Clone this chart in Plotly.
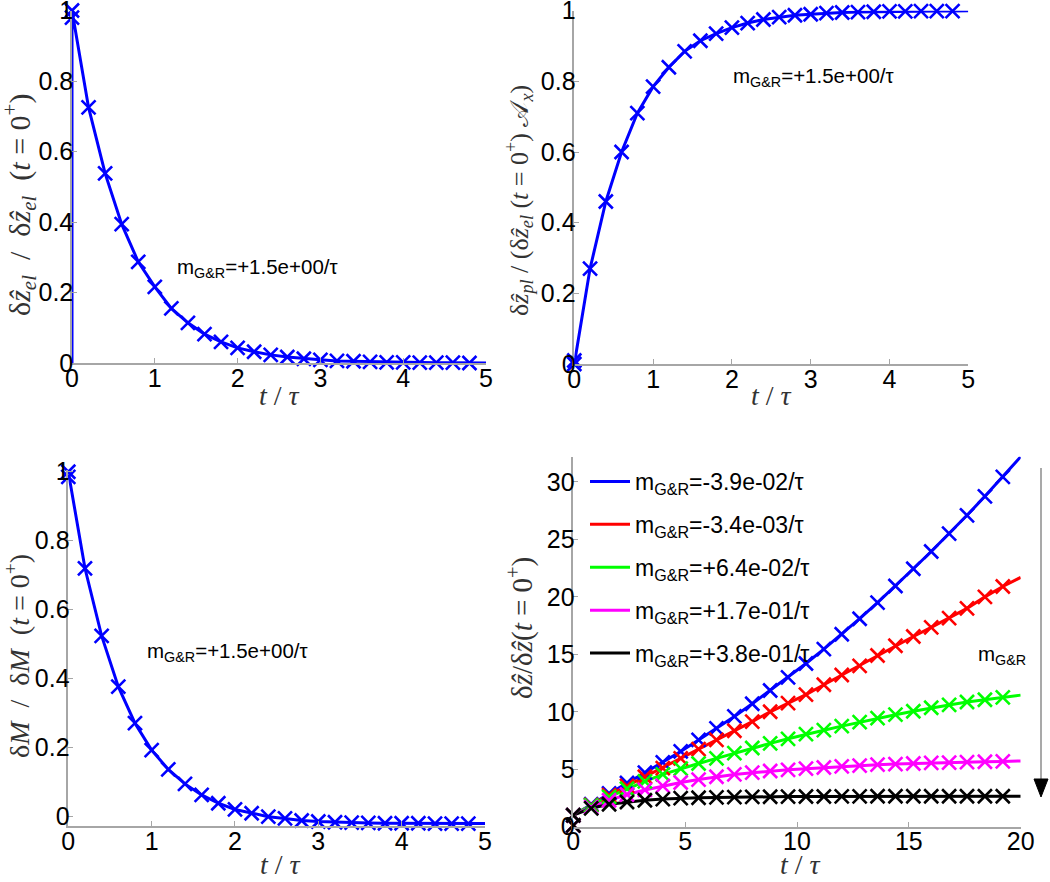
import plotly.graph_objects as go

# ---------------- data ----------------
t_short = [0.0, 0.2, 0.4, 0.6, 0.8, 1.0, 1.2, 1.4, 1.6, 1.8, 2.0, 2.2, 2.4, 2.6, 2.8,
           3.0, 3.2, 3.4, 3.6, 3.8, 4.0, 4.2, 4.4, 4.6, 4.8]
t_short_end = 5.0

# top-left: elastic displacement decay
z_el = [1.0, 0.725, 0.538, 0.394, 0.287, 0.216, 0.155, 0.114, 0.082, 0.060, 0.043, 0.032,
        0.023, 0.017, 0.012, 0.009, 0.006, 0.005, 0.003, 0.002, 0.002, 0.001, 0.001, 0.001, 0.000]
z_el_end = 0.0
z_el_t0_extra = 0.98

# top-right: plastic displacement growth
z_pl = [0.0, 0.27, 0.46, 0.60, 0.71, 0.785, 0.84, 0.885, 0.915, 0.935, 0.952, 0.965,
        0.975, 0.982, 0.987, 0.990, 0.993, 0.995, 0.996, 0.997, 0.998, 0.998, 0.999, 0.999, 0.999]
z_pl_end = 1.0
z_pl_t0_extra = 0.01

# bottom-left: moment decay
dM = [1.0, 0.72, 0.524, 0.377, 0.271, 0.193, 0.137, 0.095, 0.063, 0.039, 0.021, 0.010,
      0.0, -0.005, -0.011, -0.014, -0.016, -0.017, -0.018, -0.019, -0.019, -0.019, -0.020, -0.020, -0.020]
dM_end = -0.020
dM_t0_extra = 0.985

m_label_single = "m<sub>G&R</sub>=+1.5e+00/τ"

# bottom-right: total displacement for several G&R rates
t_long = [0.0, 0.8, 1.6, 2.4, 3.2, 4.0, 4.8, 5.6, 6.4, 7.2, 8.0, 8.8, 9.6, 10.4, 11.2,
          12.0, 12.8, 13.6, 14.4, 15.2, 16.0, 16.8, 17.6, 18.4, 19.2]
t_long_end = 20.0

series_names = ["m<sub>G&R</sub>=-3.9e-02/τ", "m<sub>G&R</sub>=-3.4e-03/τ",
                "m<sub>G&R</sub>=+6.4e-02/τ", "m<sub>G&R</sub>=+1.7e-01/τ",
                "m<sub>G&R</sub>=+3.8e-01/τ"]
series_colors = ["#0000ff", "#ff0000", "#00ff00", "#ff00ff", "#000000"]
z_blue = [1.0, 1.95, 2.9, 3.8, 4.7, 5.6, 6.55, 7.55, 8.55, 9.6, 10.7, 11.85, 13.0, 14.2,
          15.45, 16.75, 18.1, 19.5, 20.95, 22.45, 23.95, 25.5, 27.1, 28.75, 30.45]
z_red = [1.0, 1.9, 2.75, 3.55, 4.35, 5.1, 5.95, 6.75, 7.55, 8.35, 9.15, 10.0, 10.75, 11.5,
         12.35, 13.2, 14.0, 14.9, 15.75, 16.55, 17.35, 18.15, 19.0, 20.0, 20.9]
z_green = [1.0, 1.85, 2.6, 3.3, 3.95, 4.55, 5.05, 5.5, 5.95, 6.4, 6.85, 7.25, 7.65, 8.05,
           8.4, 8.75, 9.1, 9.45, 9.75, 10.05, 10.35, 10.6, 10.85, 11.05, 11.25]
z_magenta = [1.0, 1.7, 2.3, 2.8, 3.2, 3.55, 3.85, 4.1, 4.35, 4.55, 4.7, 4.85, 4.95, 5.05,
             5.15, 5.25, 5.32, 5.4, 5.45, 5.5, 5.55, 5.58, 5.62, 5.65, 5.68]
z_black = [1.0, 1.6, 1.95, 2.15, 2.3, 2.4, 2.48, 2.52, 2.55, 2.58, 2.6, 2.61, 2.62, 2.63,
           2.63, 2.64, 2.64, 2.65, 2.65, 2.65, 2.65, 2.65, 2.65, 2.65, 2.65]
z_ends = [32.2, 21.7, 11.45, 5.72, 2.65]
z_t0_extra = 0.12
series_values = [z_blue, z_red, z_green, z_magenta, z_black]

# ---------------- figure ----------------
W, H = 1050, 882
def px(p): return p / W
def py(p): return 1 - p / H

SERIF = "Liberation Serif, DejaVu Serif, serif"
TICKFONT = dict(family="Liberation Sans, Arial, sans-serif", size=25, color="#000")
TITLEFONT = dict(family=SERIF, size=28, color="#333")
ANNFONT = dict(family="Liberation Sans, Arial, sans-serif", size=20.5, color="#000")
LEGFONT = dict(family="Liberation Sans, Arial, sans-serif", size=23, color="#000")
MARK = dict(symbol="x-thin", size=14, line=dict(width=2.6))
NB = "\u00a0"

fig = go.Figure()

def add_single(xa, ya, t, vals, t_end, v_end, extra, prepend_zero=False):
    lx = ([0.0] if prepend_zero else []) + t + [t_end]
    ly = ([0.0] if prepend_zero else []) + vals + [v_end]
    fig.add_trace(go.Scatter(x=lx, y=ly, mode="lines", xaxis=xa, yaxis=ya,
                             line=dict(color="#0000ff", width=3), showlegend=False,
                             cliponaxis=False))
    mk = dict(MARK); mk["color"] = "#0000ff"; mk["line"] = dict(width=2.6, color="#0000ff")
    fig.add_trace(go.Scatter(x=[0.0] + t, y=[extra] + vals, mode="markers", xaxis=xa, yaxis=ya,
                             marker=mk, showlegend=False, cliponaxis=False))

add_single("x", "y", t_short, z_el, t_short_end, z_el_end, z_el_t0_extra, prepend_zero=True)
add_single("x2", "y2", t_short, z_pl, t_short_end, z_pl_end, z_pl_t0_extra)
add_single("x3", "y3", t_short, dM, t_short_end, dM_end, dM_t0_extra)

for i, (name, col, vals, vend) in enumerate(zip(series_names, series_colors, series_values, z_ends)):
    fig.add_trace(go.Scatter(x=t_long + [t_long_end], y=vals + [vend], mode="lines",
                             xaxis="x4", yaxis="y4", name=name, legendgroup=str(i),
                             line=dict(color=col, width=3), cliponaxis=False))
for i, (col, vals) in enumerate(zip(series_colors, series_values)):
    mk = dict(MARK); mk["color"] = col; mk["line"] = dict(width=2.6, color=col)
    fig.add_trace(go.Scatter(x=[0.0] + t_long, y=[z_t0_extra] + vals, mode="markers",
                             xaxis="x4", yaxis="y4", marker=mk, showlegend=False,
                             legendgroup=str(i), cliponaxis=False))

def xax(dom, anchor, rng, dtick):
    return dict(domain=dom, anchor=anchor, range=rng, dtick=dtick, showline=True,
                linecolor="#a6a6a6", linewidth=1.5, ticks="inside", ticklen=5,
                tickcolor="#a6a6a6", showgrid=False, zeroline=False, tickfont=TICKFONT,
                automargin=False, ticklabeloverflow="allow", ticklabelstandoff=-8)

def yax(dom, anchor, rng, dtick):
    return dict(domain=dom, anchor=anchor, range=rng, dtick=dtick, showline=True,
                linecolor="#a6a6a6", linewidth=1.5, ticks="inside", ticklen=5,
                tickcolor="#a6a6a6", showgrid=False, zeroline=False, tickfont=TICKFONT,
                automargin=False, ticklabeloverflow="allow", ticklabelstandoff=-8)

fig.update_layout(
    template="none",
    width=W, height=H, margin=dict(l=0, r=0, t=0, b=0, autoexpand=False),
    paper_bgcolor="white", plot_bgcolor="white",
    xaxis=xax([px(72), px(486)], "y", [0, 5], 1),
    yaxis=yax([py(363), py(10.5)], "x", [0, 1], 0.2),
    xaxis2=xax([px(574.3), px(968.3)], "y2", [0, 5], 1),
    yaxis2=yax([py(364), py(10.7)], "x2", [0, 1], 0.2),
    xaxis3=xax([px(68.3), px(485)], "y3", [0, 5], 1),
    yaxis3=yax([py(826), py(470)], "x3", [-0.027, 1.005], 0.2),
    xaxis4=xax([px(573.3), px(1020.7)], "y4", [0, 20], 5),
    yaxis4=yax([py(826.7), py(456.7)], "x4", [0, 32.2], 5),
    legend=dict(x=px(585), y=py(460), xanchor="left", yanchor="top",
                bgcolor="rgba(0,0,0,0)", font=LEGFONT, traceorder="grouped",
                tracegroupgap=10, itemwidth=40, borderwidth=0),
    showlegend=True,
)

# axis titles (placed like the MATLAB labels)
x_title = "<i>t</i> / <i>τ</i>"
for (cx, cy) in [(279, 395), (771, 395), (280, 864), (800, 864)]:
    fig.add_annotation(x=px(cx), y=py(cy), xref="paper", yref="paper", text=x_title,
                       showarrow=False, xanchor="center", yanchor="middle", font=TITLEFONT)

y_titles = [
    (f"δ<i>ẑ</i><sub><i>el</i></sub>{NB}{NB}/{NB}{NB}δ<i>ẑ</i><sub><i>el</i></sub>{NB}{NB}(<i>t</i>{NB}={NB}0<sup>+</sup>)",
     19, 205, 30),
    (f"δ<i>ẑ</i><sub><i>pl</i></sub> / (δ<i>ẑ</i><sub><i>el</i></sub> (<i>t</i> = 0<sup>+</sup>) 𝒜<sub><i>x</i></sub>)",
     519, 201, 26),
    ("δ<i>M</i>  /  δ<i>M</i>  (<i>t</i> = 0<sup>+</sup>)", 17, 656, 28),
    ("δ<i>ẑ</i>/δ<i>ẑ</i>(<i>t</i> = 0<sup>+</sup>)", 520, 628, 29),
]
for text, cx, cy, fs in y_titles:
    fig.add_annotation(x=px(cx), y=py(cy), xref="paper", yref="paper", text=text,
                       textangle=-90, showarrow=False, xanchor="center", yanchor="middle",
                       font=dict(family=SERIF, size=fs, color="#333"))

# in-plot annotations
fig.add_annotation(x=px(175), y=py(268), xref="paper", yref="paper", text=m_label_single,
                   showarrow=False, xanchor="left", yanchor="middle", font=ANNFONT)
fig.add_annotation(x=px(731), y=py(77), xref="paper", yref="paper", text=m_label_single,
                   showarrow=False, xanchor="left", yanchor="middle", font=ANNFONT)
fig.add_annotation(x=px(145), y=py(652), xref="paper", yref="paper", text=m_label_single,
                   showarrow=False, xanchor="left", yanchor="middle", font=ANNFONT)
fig.add_annotation(x=px(976), y=py(655), xref="paper", yref="paper", text="m<sub>G&R</sub>",
                   showarrow=False, xanchor="left", yanchor="middle", font=ANNFONT)

# arrow indicating increasing m_G&R
fig.add_shape(type="line", xref="paper", yref="paper", x0=px(1041), x1=px(1041),
              y0=py(468), y1=py(782), line=dict(color="#8c8c8c", width=1.5))
fig.add_shape(type="path", xref="paper", yref="paper",
              path=f"M {px(1034)},{py(779)} L {px(1048)},{py(779)} L {px(1041)},{py(797)} Z",
              fillcolor="#000", line=dict(color="#000", width=1))

fig.write_html("out.html", config={"displayModeBar": False},
               post_script="document.body.style.margin='0px';document.body.style.overflow='hidden';")
